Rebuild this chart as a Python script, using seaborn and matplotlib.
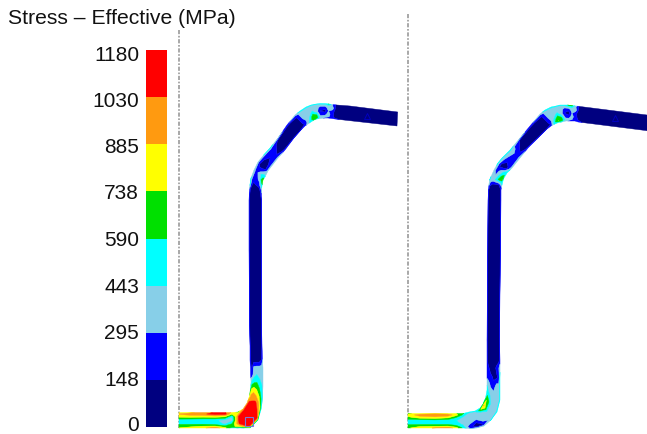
import numpy as np
import matplotlib
matplotlib.use("Agg")
import matplotlib.pyplot as plt
from matplotlib.colors import ListedColormap, BoundaryNorm
from matplotlib.patches import Rectangle
import seaborn as sns

TITLE = "Stress \u2013 Effective (MPa)"
TICK_LABELS = ["1180", "1030", "885", "738", "590", "443", "295", "148", "0"]
LEVELS = [0, 148, 295, 443, 590, 738, 885, 1030, 1180]
BAND_COLORS = ["#000080", "#0000ff", "#87cfe8", "#00ffff", "#00e000", "#ffff00", "#ff9a10", "#ff0000"]
BAND_VALUES = [74, 221, 369, 516, 664, 811, 957, 1105]

N = [50] * 7
V = [165, 55, 50, 50, 50, 55, 165]
# side A / side B outline of the section (px) and effective stress across it (MPa)
left_a = [(179,412.5),(190,412.5),(203,412.5),(215,412.5),(225,412.5),(232,412.5),(238,412),(243,409),(247,403),
          (249.5,396),(250.5,388),(251,382),(250.5,374),(250.5,368),(250,360),(250,345),(249.5,320),(249,250),(249,200),
          (249.5,190),(250,184),(251,178),(254,170),(258,162),(262,157),(270,148),(278,138),(287,125),(295,115),(300,111),
          (306,107),(311,105),(316,104),(320,103.5),(325,103.5),(329,104),(333,104.5),(337,105),(350,106),(397.7,112)]
left_b = [(179,428),(190,428),(203,428),(215,428),(225,428),(232,428),(240,428),(250,428),(258,420),
          (261.5,408),(262.5,397),(263,386),(263,376),(263,368),(262.5,360),(262,345),(261.5,320),(261.5,250),(261.5,200),
          (261.5,190),(262,186),(263,180),(265,177),(268,171),(271,167),(278,158),(285,150),(294,138),(301,130),(305,126),
          (311,122),(314,120),(317,119),(320.5,118.5),(325,118),(328,118),(332,118.5),(335,119),(348,120.5),(397,126)]
left_stress = [
    [780,900,780,500,560,700,740],[850,960,800,480,560,720,780],[950,1000,780,470,560,760,860],
    [1050,1100,800,460,520,780,960],[1050,1100,750,400,420,650,800],[850,750,450,400,600,700,500],
    [650,850,1050,1100,1050,800,400],[900,1080,1150,1160,1150,1100,500],[950,1100,1150,1160,1150,1050,500],
    [750,950,1000,1050,950,700,450],[500,750,850,800,700,550,420],[370,520,600,620,520,450,380],
    [220,180,370,450,400,380,380],[200,120,350,370,370,370,370],[220,100,60,60,60,150,300],
    V,V,V,V,
    [250,100,60,60,60,180,350],[500,230,100,150,200,400,550],[450,300,230,250,370,720,740],
    [400,300,250,370,500,500,450],[430,200,100,60,100,250,370],[430,250,150,100,150,250,400],
    [500,300,250,200,160,250,400],[330,120,60,50,50,100,250],[260,120,50,50,50,50,180],
    [400,200,100,50,50,50,170],[500,380,370,300,200,150,230],[500,400,370,370,450,500,500],
    [480,380,370,500,700,730,600],[480,370,370,370,600,680,480],[500,370,230,140,230,370,370],
    [520,370,230,100,230,370,250],[600,450,370,300,370,330,200],[300,280,370,220,200,200,200],
    [100,80,60,60,60,100,200],N,N]

right_a = [(408,413.5),(420,413.5),(435,413.5),(448,413.5),(456,413.5),(463,413.5),(469,412),(475,411),(480,408),
           (483,404),(485.5,398),(487,390),(487,382),(487,376),(487,368),(487,360),(487,340),(488,200),(488.5,190),
           (488.7,186),(489.5,180),(494,170),(498,163),(502,158),(510,150),(520,138),(530,126),(540,114),(545,110),
           (551,107),(556,106),(560,105),(564,105),(568,105),(572,105.5),(576,106),(580,106.5),(592,108),(647,115)]
right_b = [(408,428),(420,428),(435,428),(448,428),(456,428),(463,428),(470,428.5),(477,428),(484,426),
           (491,420),(497,412),(500,400),(500,388),(500,378),(500,368),(500,360),(499.5,340),(501,200),(501,190),
           (502,185),(503.5,179),(507,173),(510,170),(512,168),(520,158),(528,148),(538,138),(547,129),(551,126),
           (555,124),(558.5,122.5),(562,122),(566,121),(569,121),(572,121),(575,121),(578,122),(590,123.5),(647,130.7)]
right_stress = [
    [700,800,700,500,560,700,720],[820,960,820,480,560,740,820],[850,1000,850,500,560,760,900],
    [820,980,780,480,560,780,980],[750,800,600,450,500,680,820],[600,560,420,370,420,500,560],
    [520,370,370,370,300,200,300],[480,370,370,300,120,80,370],[500,720,370,370,300,140,400],
    [600,900,720,400,370,370,450],[550,720,620,370,370,370,500],[500,450,370,370,370,370,480],
    [400,370,250,170,370,370,500],[230,180,180,130,120,180,500],[200,180,100,60,180,280,400],
    [180,90,60,60,60,90,200],V,V,V,
    [300,150,60,60,100,300,450],[450,370,370,500,700,740,550],[430,300,230,370,450,500,500],
    [450,300,100,60,100,300,450],[480,350,230,140,200,250,400],[500,400,380,250,200,300,400],
    [330,120,60,50,50,100,250],[260,120,50,50,50,60,180],[400,200,100,50,50,50,170],
    [500,380,370,300,200,150,230],[500,400,370,370,450,550,500],[480,380,370,500,720,740,500],
    [480,370,370,370,600,680,400],[480,370,220,140,230,370,370],[600,450,200,80,200,370,250],
    [650,480,370,300,370,300,200],[350,300,370,200,200,220,200],[80,80,60,60,100,150,200],N,N]
across = [0, 0.1, 0.27, 0.5, 0.73, 0.9, 1]

sns.set_theme(style="white")
plt.rcParams["font.family"] = ["Liberation Sans", "DejaVu Sans"]
W, H = 647, 434
fig = plt.figure(figsize=(W / 100, H / 100), dpi=100, facecolor="white")

ax = fig.add_axes([0, 0, 1, 1])
ax.set_xlim(0, W)
ax.set_ylim(H, 0)
ax.axis("off")
cmap = ListedColormap(BAND_COLORS)
norm = BoundaryNorm(LEVELS, cmap.N)


def draw_section(side_a, side_b, stress):
    a, b, z = np.array(side_a, float), np.array(side_b, float), np.array(stress, float)
    t = np.array(across)[None, :]
    x = a[:, 0:1] + (b[:, 0:1] - a[:, 0:1]) * t
    y = a[:, 1:2] + (b[:, 1:2] - a[:, 1:2]) * t
    cs = ax.contourf(x, y, z, levels=LEVELS, colors=BAND_COLORS, antialiased=True, zorder=2)
    cs.set_edgecolor("face")
    cs.set_linewidth(0.3)


draw_section(left_a, left_b, left_stress)
draw_section(right_a, right_b, right_stress)

for x0, y0 in [(179, 30), (408, 14)]:
    ax.plot([x0, x0], [y0, 428], color="#9a9a9a", lw=1.2, ls=(0, (2.5, 1, 1, 1)), zorder=1)
ax.add_patch(Rectangle((245, 417), 8, 9, fill=False, ec="#7a78d8", lw=0.8, zorder=3))
ax.plot([366.7, 615], [116, 118], ls="none", marker="^", ms=5, mfc="none", mec="#0000c8", mew=0.6, zorder=3)
ax.text(8, 19, TITLE, fontsize=15.2, color="#111111", va="center", ha="left")

cax = fig.add_axes([146 / W, (H - 427) / H, 21 / W, 377 / H])
sns.heatmap(np.array(BAND_VALUES[::-1])[:, None], cmap=cmap, norm=norm, cbar=False, ax=cax,
            xticklabels=False, linewidths=0)
tick_rows = (np.array([55, 101, 147, 193.5, 240, 286.5, 333, 379.5, 425]) - 50) / 47
cax.set_yticks(tick_rows)
cax.set_yticklabels(TICK_LABELS, fontsize=15, color="#111111", rotation=0)
cax.tick_params(axis="y", length=0, pad=5)

fig.savefig("out.png", dpi=100)
